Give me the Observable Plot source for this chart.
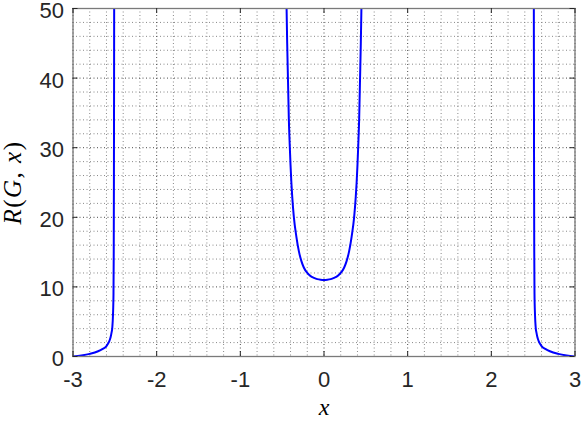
<!DOCTYPE html>
<html>
<head>
<meta charset="utf-8">
<script src="https://cdn.jsdelivr.net/npm/d3@7"></script>
<script src="https://cdn.jsdelivr.net/npm/@observablehq/plot@0.6"></script>
<style>
  html, body { margin: 0; padding: 0; background: #fff; }
  #chart svg { display: block; }
</style>
</head>
<body>
<div id="chart"></div>
<script>
// ---- data ----
const xTicks = [-3, -2, -1, 0, 1, 2, 3];
const yTicks = [0, 10, 20, 30, 40, 50];
const xLabel = "x";
const yLabel = "R(G, x)";

const leftX  = [-3.0, -2.9, -2.8, -2.7, -2.65, -2.6, -2.57, -2.55, -2.54, -2.53, -2.522, -2.516, -2.513, -2.511, -2.509, -2.507];
const leftY  = [0, 0.15, 0.38, 0.75, 1.05, 1.5, 2.1, 2.8, 3.4, 4.2, 6.0, 9.0, 15, 25, 40, 60];

const centerX = [-0.46, -0.45, -0.44, -0.43, -0.42, -0.41, -0.40, -0.39, -0.38, -0.36, -0.33, -0.30, -0.27, -0.24, -0.20, -0.16, -0.12, -0.08, -0.04, 0,
                  0.04, 0.08, 0.12, 0.16, 0.20, 0.24, 0.27, 0.30, 0.33, 0.36, 0.38, 0.39, 0.40, 0.41, 0.42, 0.43, 0.44, 0.45, 0.46];
const centerY = [62, 52, 45, 39.5, 34, 30.5, 27.5, 25, 23, 20, 17.2, 15.1, 13.7, 12.75, 12.0, 11.55, 11.3, 11.12, 11.03, 11,
                  11.03, 11.12, 11.3, 11.55, 12.0, 12.75, 13.7, 15.1, 17.2, 20, 23, 25, 27.5, 30.5, 34, 39.5, 45, 52, 62];

const rightX = [2.507, 2.509, 2.511, 2.513, 2.516, 2.522, 2.53, 2.54, 2.55, 2.57, 2.6, 2.65, 2.7, 2.8, 2.9, 3.0];
const rightY = [60, 40, 25, 15, 9.0, 6.0, 4.2, 3.4, 2.8, 2.1, 1.5, 1.05, 0.75, 0.38, 0.15, 0];

// ---- build tables ----
const branches = [
  {id: "left", xs: leftX, ys: leftY},
  {id: "center", xs: centerX, ys: centerY},
  {id: "right", xs: rightX, ys: rightY}
];
const curve = branches.flatMap(b => b.xs.map((x, i) => ({branch: b.id, x, y: b.ys[i]})));

const xMinor = d3.range(-30, 31, 2).map(i => i / 10).filter(v => !xTicks.includes(v));
const yMinor = d3.range(0, 51, 2).filter(v => !yTicks.includes(v));

const W = 581, H = 421;
const mL = 72.5, mR = 6.5, mT = 8, mB = 65;
const innerH = H - mT - mB;
const innerW = W - mL - mR;
const tickLen = 5;

const gridMinor = {stroke: "#888", strokeWidth: 1, strokeDasharray: "1,2.5"};
const gridMajor = {stroke: "#4a4a4a", strokeWidth: 1, strokeDasharray: "1,2.5"};
const serif = "'Liberation Serif', 'DejaVu Serif', serif";

const chart = Plot.plot({
  width: W,
  height: H,
  marginLeft: mL,
  marginRight: mR,
  marginTop: mT,
  marginBottom: mB,
  style: {fontFamily: "'Liberation Sans', Arial, sans-serif", background: "#fff", overflow: "visible"},
  x: {domain: [-3, 3]},
  y: {domain: [0, 50]},
  marks: [
    Plot.ruleX(xMinor, gridMinor),
    Plot.ruleY(yMinor, gridMinor),
    Plot.ruleX(xTicks, gridMajor),
    Plot.ruleY(yTicks, gridMajor),
    Plot.line(curve, {x: "x", y: "y", z: "branch", stroke: "#0000ff", strokeWidth: 2, curve: "monotone-x", clip: true}),
    Plot.frame({stroke: "#7a7a7a", strokeWidth: 1.3}),
    // inward ticks on all four sides
    Plot.tickX(xTicks, {x: d => d, stroke: "#262626", insetTop: innerH - tickLen}),
    Plot.tickX(xTicks, {x: d => d, stroke: "#262626", insetBottom: innerH - tickLen}),
    Plot.tickY(yTicks, {y: d => d, stroke: "#262626", insetRight: innerW - tickLen}),
    Plot.tickY(yTicks, {y: d => d, stroke: "#262626", insetLeft: innerW - tickLen}),
    Plot.axisX({ticks: xTicks, tickSize: 0, tickPadding: 15, fontSize: 22, tickFormat: d => String(d), label: null, fill: "#262626"}),
    Plot.axisY({ticks: yTicks, tickSize: 0, tickPadding: 9, fontSize: 22, dy: 2.5, tickFormat: d => String(d), label: null, fill: "#262626"}),
    Plot.text([xLabel], {text: d => d, frameAnchor: "bottom", dy: 58, fontSize: 24, fontStyle: "italic", fontFamily: serif, fill: "#000"}),
    Plot.text([yLabel], {text: d => d, frameAnchor: "left", textAnchor: "middle", dx: -60, rotate: -90, fontSize: 25, fontStyle: "italic", fontFamily: serif, fill: "#000"})
  ]
});

// make parentheses and comma upright, as in LaTeX math
d3.select(chart).selectAll("text").each(function() {
  const t = d3.select(this);
  if (t.text() === yLabel) {
    t.text(null);
    t.style("letter-spacing", "1.5px");
    const parts = [["R", true], ["(", false], ["G", true], [", ", false], ["x", true], [")", false]];
    for (const [s, it] of parts) t.append("tspan").attr("font-style", it ? "italic" : "normal").text(s);
  }
});

document.getElementById("chart").append(chart);
</script>
</body>
</html>
